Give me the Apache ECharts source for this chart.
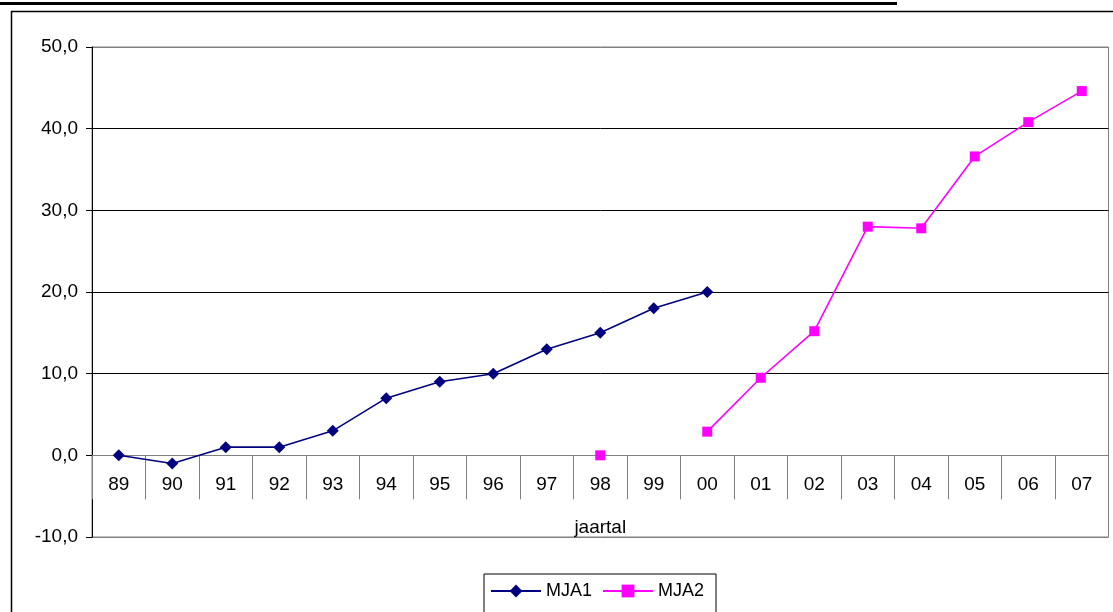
<!DOCTYPE html>
<html>
<head>
<meta charset="utf-8">
<script src="https://cdn.jsdelivr.net/npm/echarts@6/dist/echarts.min.js"></script>
<style>
html,body{margin:0;padding:0;background:#fff;}
#chart{width:1113px;height:612px;}
</style>
</head>
<body>
<div id="chart"></div>
<script>
const categories = ['89','90','91','92','93','94','95','96','97','98','99','00','01','02','03','04','05','06','07'];
const mja1 = [0, -1, 1, 1, 3, 7, 9, 10, 13, 15, 18, 20, null, null, null, null, null, null, null];
const mja2 = [null, null, null, null, null, null, null, null, null, 0, null, 2.9, 9.5, 15.2, 28.0, 27.8, 36.6, 40.8, 44.6];
const yMin = -10, yMax = 50, yStep = 10;
const axisName = 'jaartal';
const seriesNames = ['MJA1', 'MJA2'];

const chart = echarts.init(document.getElementById('chart'), null, {renderer: 'canvas'});
const font = 'Arial, "Liberation Sans", sans-serif';
chart.setOption({
  animation: false,
  backgroundColor: '#fff',
  textStyle: {fontFamily: font},
  graphic: [
    {type: 'rect', shape: {x: 0, y: 2, width: 897, height: 3}, style: {fill: '#000'}, silent: true},
    {type: 'rect', shape: {x: 11.5, y: 11.5, width: 1120, height: 700}, style: {fill: 'none', stroke: '#000', lineWidth: 1.5}, silent: true}
  ],
  grid: {left: 92, right: 4.5, top: 47, bottom: 75, show: true, borderColor: '#808080', borderWidth: 1,
    backgroundColor: 'transparent', containLabel: false, outerBoundsMode: 'none'},
  legend: {
    data: seriesNames,
    left: 484, top: 574,
    itemWidth: 50, itemHeight: 16, itemGap: 10,
    padding: [8, 12, 20, 6],
    borderColor: '#000', borderWidth: 1,
    textStyle: {fontSize: 18, color: '#000', fontFamily: font}
  },
  xAxis: {
    type: 'category',
    data: categories,
    boundaryGap: true,
    name: axisName,
    nameLocation: 'middle',
    nameGap: 63,
    nameMoveOverlap: false,
    nameTextStyle: {fontSize: 19, color: '#000', fontFamily: font},
    axisLine: {onZero: false, lineStyle: {color: '#808080', width: 1}},
    axisTick: {show: true, interval: 0, length: 44, lineStyle: {color: '#808080', width: 1}},
    axisLabel: {interval: 0, fontSize: 19, color: '#000', margin: 20, fontFamily: font},
    splitLine: {show: false}
  },
  yAxis: {
    type: 'value',
    min: yMin, max: yMax, interval: yStep,
    axisLine: {show: true, onZero: false, lineStyle: {color: '#000', width: 1}},
    axisTick: {show: true, length: 6, lineStyle: {color: '#000'}},
    axisLabel: {fontSize: 19, color: '#000', margin: 14, fontFamily: font,
      formatter: v => v.toFixed(1).replace('.', ',')},
    splitLine: {show: true, lineStyle: {color: ['#808080', '#808080', '#000', '#000', '#000', '#000', '#808080'], width: 1}}
  },
  series: [
    {
      name: seriesNames[0], type: 'line', data: mja1,
      symbol: 'diamond', symbolSize: 12, showAllSymbol: true, connectNulls: false,
      lineStyle: {color: '#000080', width: 1.6},
      itemStyle: {color: '#000080'}
    },
    {
      name: seriesNames[1], type: 'line', data: mja2,
      symbol: 'rect', symbolSize: 10, showAllSymbol: true, connectNulls: false,
      lineStyle: {color: '#FF00FF', width: 1.6},
      itemStyle: {color: '#FF00FF'}
    }
  ]
});
// Place the category axis on the zero line using the library's own value scale
const yZero = chart.convertToPixel({yAxisIndex: 0}, 0);
const yBottom = chart.convertToPixel({yAxisIndex: 0}, yMin);
chart.setOption({xAxis: {offset: -(yBottom - yZero)}});
</script>
</body>
</html>
